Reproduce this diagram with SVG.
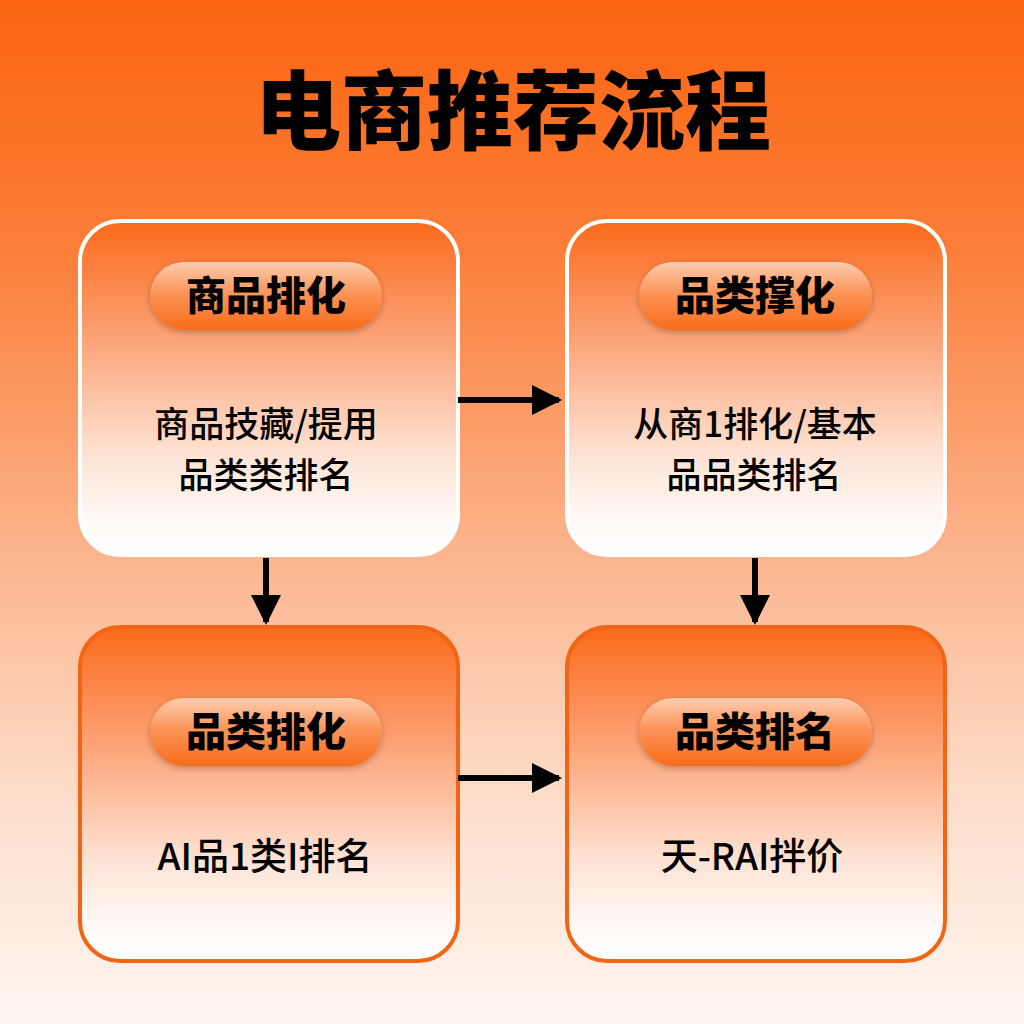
<svg xmlns="http://www.w3.org/2000/svg" width="1024" height="1024" viewBox="0 0 1024 1024">
<defs>
<linearGradient id="bg" x1="0" y1="0" x2="0" y2="1">
<stop offset="0" stop-color="#fb6410"/>
<stop offset="0.25" stop-color="#fb7f3a"/>
<stop offset="0.55" stop-color="#fcb690"/>
<stop offset="0.8" stop-color="#fde0cf"/>
<stop offset="1" stop-color="#fff6f1"/>
</linearGradient>
<linearGradient id="box" x1="0" y1="0" x2="0" y2="1">
<stop offset="0" stop-color="#fb6a1a"/>
<stop offset="0.35" stop-color="#fca276"/>
<stop offset="0.7" stop-color="#fee3d4"/>
<stop offset="0.9" stop-color="#fffaf7"/>
<stop offset="1" stop-color="#ffffff"/>
</linearGradient>
<linearGradient id="pill" x1="0" y1="0" x2="0" y2="1">
<stop offset="0" stop-color="#fdcdb0"/>
<stop offset="0.45" stop-color="#fc955a"/>
<stop offset="1" stop-color="#f86c1a"/>
</linearGradient>
<filter id="sh" x="-20%" y="-30%" width="140%" height="160%">
<feGaussianBlur in="SourceAlpha" stdDeviation="3"/>
<feOffset dy="2"/>
<feComponentTransfer><feFuncA type="linear" slope="0.25"/></feComponentTransfer>
<feMerge><feMergeNode/><feMergeNode in="SourceGraphic"/></feMerge>
</filter>
<marker id="ah" viewBox="0 0 10 10" refX="9" refY="5" markerWidth="5.5" markerHeight="5" markerUnits="strokeWidth" orient="auto">
<path d="M0,0 L10,5 L0,10 z" fill="#000"/>
</marker>
</defs>
<style>
.title{font-family:"Noto Sans CJK SC","Noto Sans",sans-serif;font-weight:900;font-size:86px;fill:#000;text-anchor:middle}
.pt{font-family:"Noto Sans CJK SC","Noto Sans",sans-serif;font-weight:900;font-size:40px;fill:#000;text-anchor:middle}
.bt{font-family:"Noto Sans CJK SC","Noto Sans",sans-serif;font-weight:500;font-size:37px;fill:#000;text-anchor:middle}
.bs{font-size:35px}
.boxT{fill:url(#box);stroke:#ffffff;stroke-width:4}
.boxB{fill:url(#box);stroke:#f26515;stroke-width:4}
.pill{fill:url(#pill)}
.con{stroke:#000;stroke-width:6;fill:none}
</style>
<rect width="1024" height="1024" fill="url(#bg)"/>
<text class="title" x="513" y="143">电商推荐流程</text>

<g id="node1">
<rect class="boxT" x="80" y="221" width="378" height="334" rx="40"/>
<rect class="pill" x="150" y="262" width="232" height="68" rx="34" filter="url(#sh)"/>
<text class="pt" x="266" y="310">商品排化</text>
<text class="bt bs" x="266" y="437">商品技藏/提用</text>
<text class="bt bs" x="266" y="488">品类类排名</text>
</g>

<g id="node2">
<rect class="boxT" x="567" y="221" width="378" height="334" rx="40"/>
<rect class="pill" x="639" y="262" width="233" height="68" rx="34" filter="url(#sh)"/>
<text class="pt" x="755" y="310">品类撑化</text>
<text class="bt bs" x="755" y="437">从商1排化/基本</text>
<text class="bt bs" x="754" y="488">品品类排名</text>
</g>

<g id="node3">
<rect class="boxB" x="80" y="627" width="378" height="334" rx="40"/>
<rect class="pill" x="150" y="698" width="232" height="68" rx="34" filter="url(#sh)"/>
<text class="pt" x="266" y="746">品类排化</text>
<text class="bt" x="265" y="870">AI品1类I排名</text>
</g>

<g id="node4">
<rect class="boxB" x="567" y="627" width="378" height="334" rx="40"/>
<rect class="pill" x="639" y="698" width="233" height="68" rx="34" filter="url(#sh)"/>
<text class="pt" x="755" y="746">品类排名</text>
<text class="bt" x="752" y="870">天-RAI拌价</text>
</g>

<g id="connectors">
<line class="con" x1="458" y1="400" x2="559" y2="400" marker-end="url(#ah)"/>
<line class="con" x1="458" y1="778" x2="559" y2="778" marker-end="url(#ah)"/>
<line class="con" x1="266" y1="558" x2="266" y2="622" marker-end="url(#ah)"/>
<line class="con" x1="755" y1="558" x2="755" y2="622" marker-end="url(#ah)"/>
</g>
</svg>
